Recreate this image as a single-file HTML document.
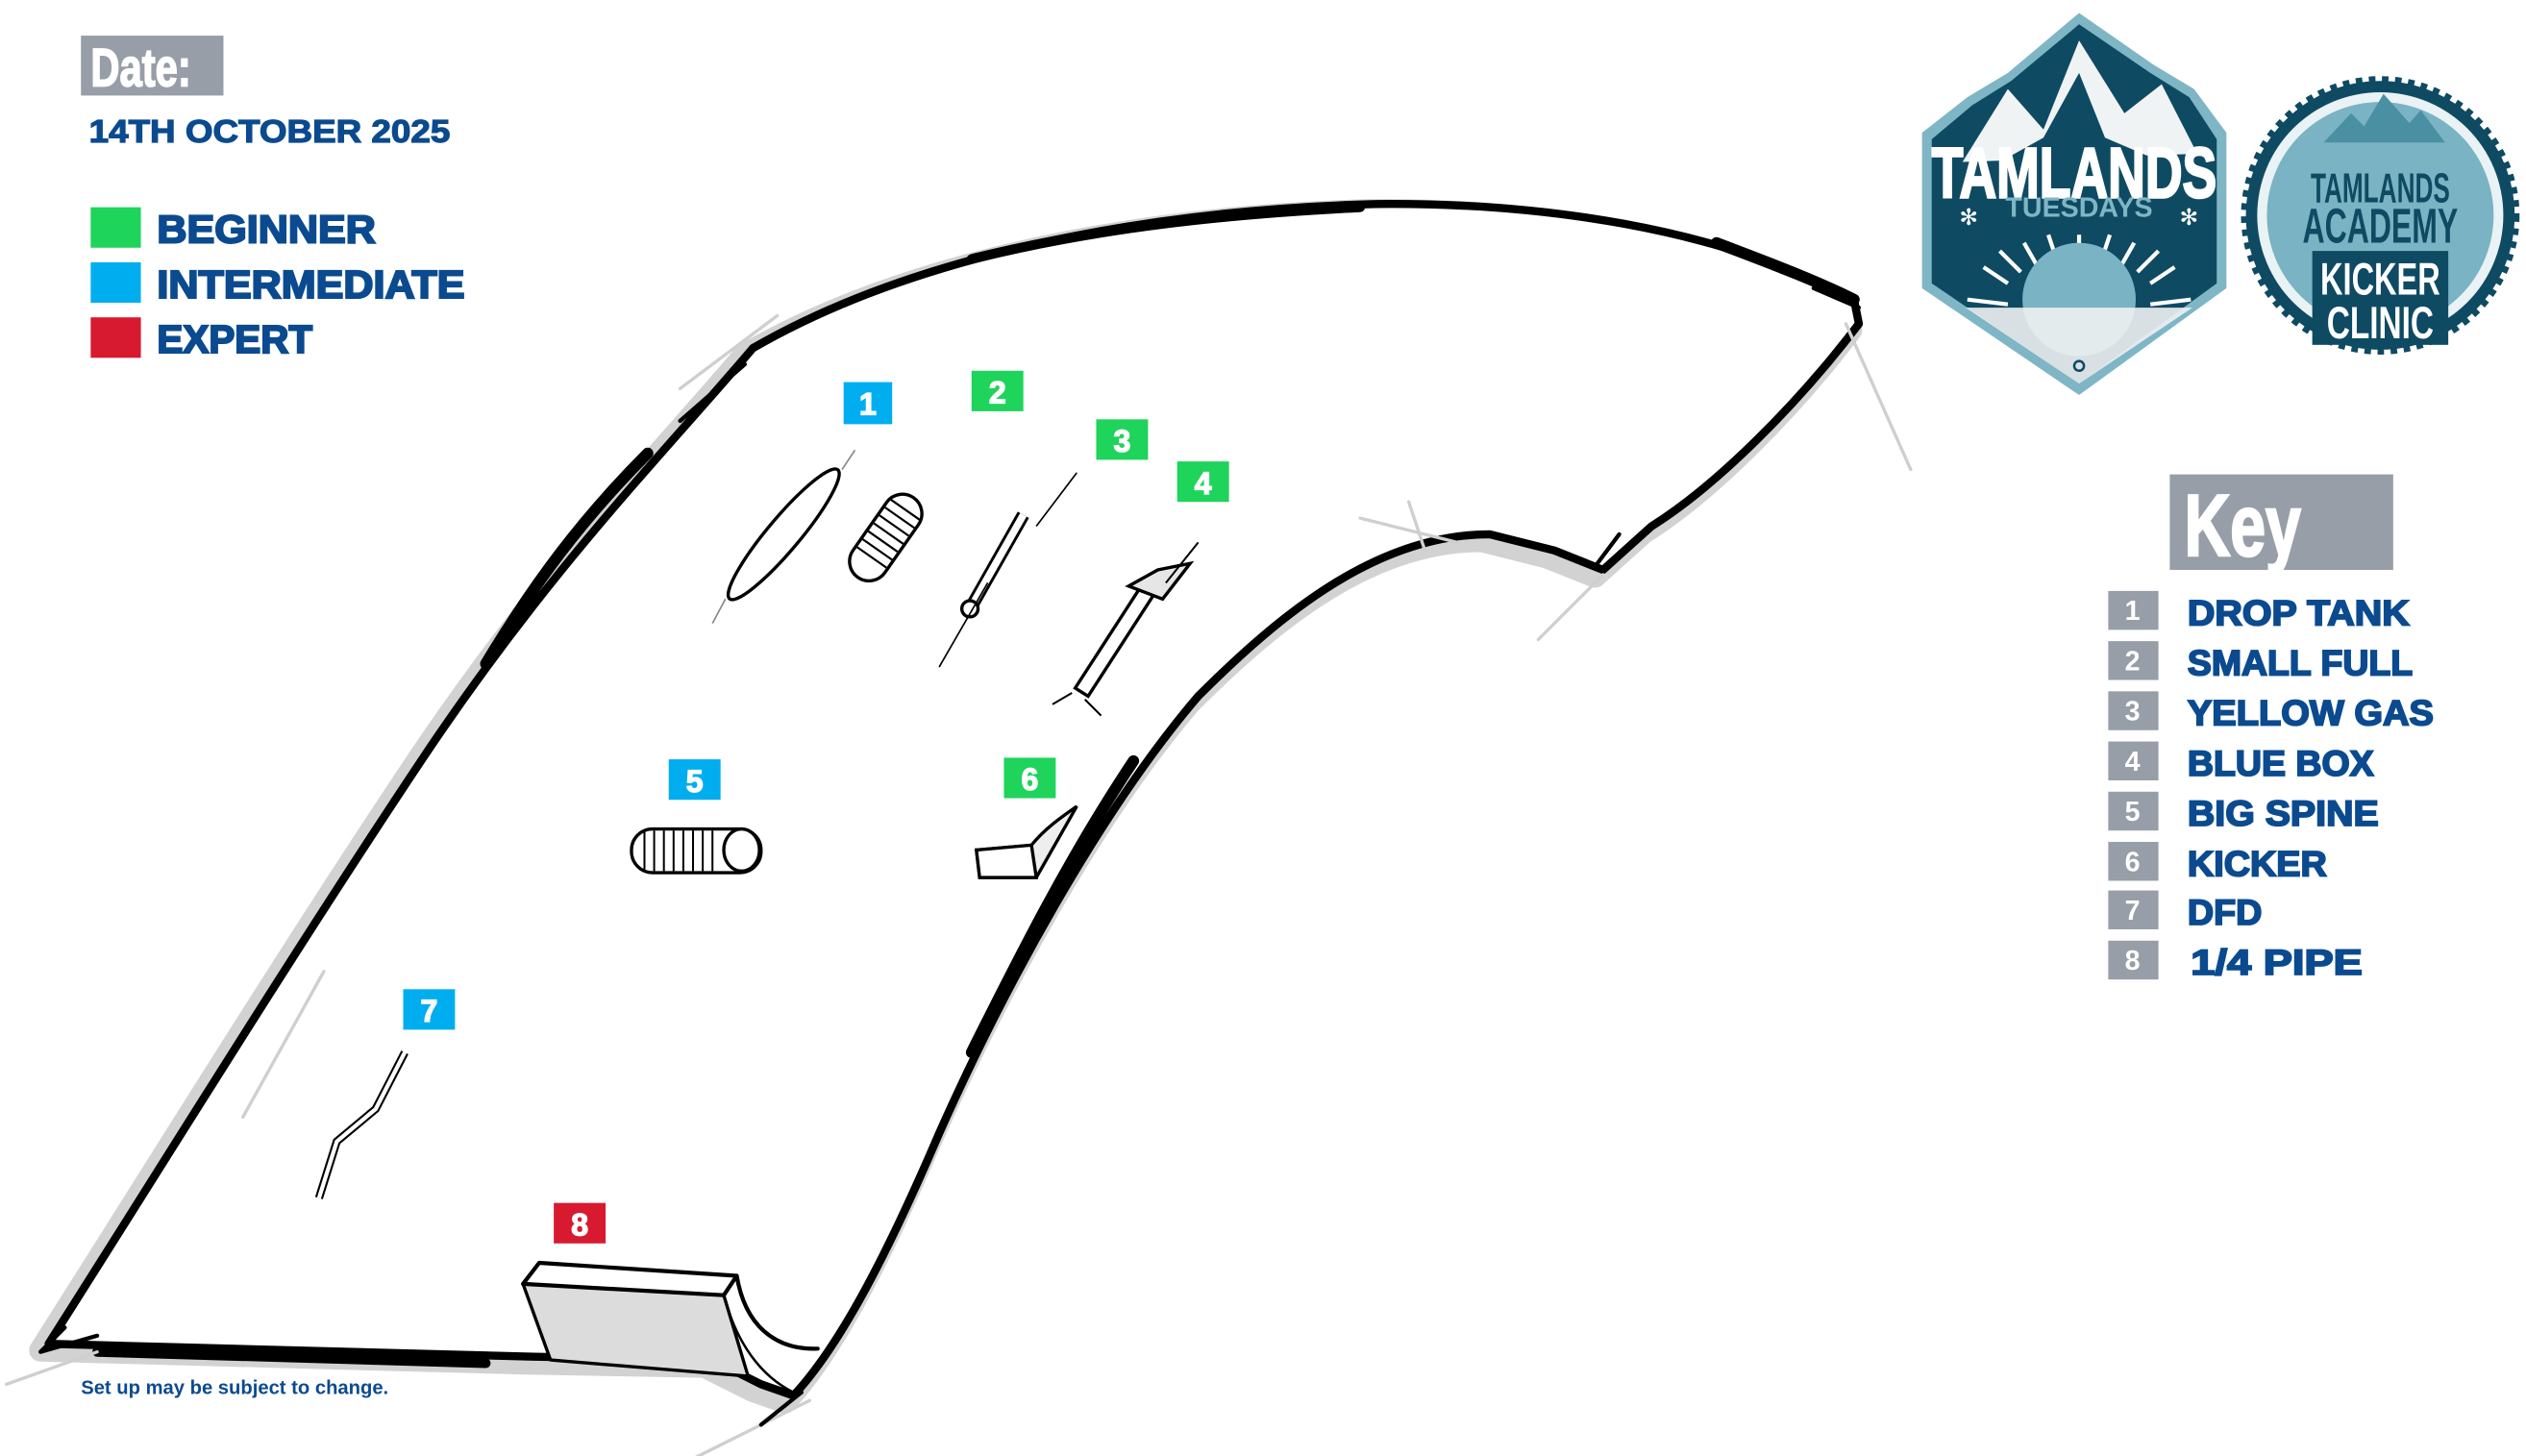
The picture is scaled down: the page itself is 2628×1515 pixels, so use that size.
<!DOCTYPE html>
<html><head><meta charset="utf-8"><style>
html,body{margin:0;padding:0;background:#fff;}
svg{display:block;}
text{font-family:"Liberation Sans",sans-serif;}
</style></head><body>
<svg width="2628" height="1515" viewBox="0 0 1560 899.3" xmlns="http://www.w3.org/2000/svg">
<!-- header -->
<rect x="50" y="22" width="88" height="37" fill="#979ea7"/>
<text x="56" y="53" font-size="33" font-weight="700" fill="#fff" stroke="#fff" stroke-width="1" textLength="62" lengthAdjust="spacingAndGlyphs">Date:</text>
<text x="55" y="88" font-size="20" font-weight="700" fill="#0b4a8f" stroke="#0b4a8f" stroke-width="0.7" textLength="223" lengthAdjust="spacingAndGlyphs">14TH OCTOBER 2025</text>
<rect x="56" y="128" width="31" height="25" fill="#1ed45a"/>
<rect x="56" y="162" width="31" height="25" fill="#00aeef"/>
<rect x="56" y="196" width="31" height="25" fill="#d71a30"/>
<g font-size="24" font-weight="700" fill="#0b4a8f" stroke="#0b4a8f" stroke-width="1.2">
<text x="97" y="150" textLength="135" lengthAdjust="spacingAndGlyphs">BEGINNER</text>
<text x="97" y="184" textLength="190" lengthAdjust="spacingAndGlyphs">INTERMEDIATE</text>
<text x="97" y="218" textLength="96" lengthAdjust="spacingAndGlyphs">EXPERT</text>
</g>

<!-- park -->
<g stroke-linejoin="round" stroke-linecap="round">
<path d="M30,830 C100,720 180,590 260,470 C340,350 410,280 465,215 C560,160 700,130 850,126 C950,125 1060,140 1145,185 L1148,200 C1110,250 1060,300 1020,325 L990,352 L960,340 L920,330 C850,330 790,380 740,430 C680,500 620,610 580,700 C550,770 520,830 490,862 L470,855 L440,840 L330,838 Z" fill="none" stroke="#d2d2d2" stroke-width="14" transform="translate(-5 4)"/>
<path d="M30,830 C100,720 180,590 260,470 C340,350 410,280 465,215 C560,160 700,130 850,126 C950,125 1060,140 1145,185 L1148,200 C1110,250 1060,300 1020,325 L990,352 L960,340 L920,330 C850,330 790,380 740,430 C680,500 620,610 580,700 C550,770 520,830 490,862 L470,855 L440,840 L330,838 Z" fill="#fff" stroke="#000" stroke-width="5"/>
<g stroke="#000" fill="none">
<path d="M300,410 C330,360 360,320 400,280" stroke-width="7"/>
<path d="M600,160 C680,140 760,132 840,128" stroke-width="6"/>
<path d="M700,470 C660,530 630,590 600,650" stroke-width="7"/>
<path d="M1060,150 C1100,165 1125,175 1145,185" stroke-width="7"/>
<path d="M60,835 L300,842" stroke-width="6"/>
</g>
<g stroke="#cfcfcf" stroke-width="2" fill="none">
<path d="M4,855 L60,835"/><path d="M840,320 L900,335"/><path d="M950,395 L990,355"/><path d="M430,900 L500,865"/><path d="M150,690 L200,600"/><path d="M420,240 L480,195"/><path d="M1180,290 L1140,200"/><path d="M870,310 L880,340"/>
</g>
<g stroke="#000" stroke-width="2.5" fill="none">
<path d="M40,820 L25,835 L60,825"/><path d="M460,225 L420,260"/><path d="M1120,178 L1148,190"/><path d="M985,350 L1000,330"/><path d="M495,860 L470,880"/>
</g>
<!-- quarter pipe -->
<polygon points="323,793 447,800 462,850 340,840" fill="#dcdcdc" stroke="#000" stroke-width="2"/>
<polygon points="323,793 333,780 455,788 447,800" fill="#fff" stroke="#000" stroke-width="2.5"/>
<path d="M455,788 C460,818 478,834 505,833" fill="none" stroke="#000" stroke-width="2.5"/>
<path d="M447,800 C455,830 470,850 490,860" fill="none" stroke="#000" stroke-width="1.5"/>
</g>

<!-- features -->
<g stroke="#000" fill="#fff" stroke-width="2">
<ellipse cx="484" cy="330" rx="52" ry="10" transform="rotate(-50 484 330)"/>
<path d="M448,370 L440,385 M520,290 L528,278" stroke="#888" stroke-width="1"/>
<g transform="rotate(-55 547 332)">
<rect x="517" y="320" width="60" height="24" rx="12"/>
<g stroke-width="1.3"><path d="M532,321v22M538,321v22M544,321v22M550,321v22M556,321v22M562,321v22M568,321v22"/></g>
</g>
<path d="M598,378 L632,318" stroke-width="8"/>
<path d="M598,378 L632,318" stroke="#fff" stroke-width="4.5"/>
<ellipse cx="599" cy="376" rx="5" ry="5"/>
<path d="M580,412 L610,360 M665,292 L640,325" stroke-width="1" fill="none"/>
<polygon points="664,425 672,430 716,362 708,357" fill="#fff"/>
<polygon points="697,362 715,352 735,348 718,370" fill="#e6e6e6"/>
<path d="M650,435 L662,428 M680,442 L670,432 M740,335 L720,360" stroke-width="1.2" fill="none"/>
<rect x="390" y="512" width="80" height="27" rx="13"/>
<ellipse cx="458" cy="525" rx="11" ry="13"/>
<g stroke-width="1.2"><path d="M398,513v25M404,513v25M410,513v25M416,513v25M422,513v25M428,513v25M434,513v25M440,513v25"/></g>
<path d="M603,525 L637,522 C645,512 655,505 665,498 L640,542 L605,542 Z" fill="#eee"/>
<path d="M603,525 L605,542 L640,542 L637,522 Z"/>
<path d="M197,740 L208,705 L232,685 L250,650" fill="none" stroke-width="5"/>
<path d="M197,740 L208,705 L232,685 L250,650" fill="none" stroke="#fff" stroke-width="2.5"/>
</g>

<!-- number labels -->
<g font-size="19" font-weight="700" fill="#fff" stroke="#fff" stroke-width="0.8" text-anchor="middle">
<rect x="521" y="236" width="30" height="26" fill="#00aeef" stroke="none"/><text x="536" y="256">1</text>
<rect x="600" y="229" width="32" height="25" fill="#1ed45a" stroke="none"/><text x="616" y="249">2</text>
<rect x="677" y="259" width="32" height="25" fill="#1ed45a" stroke="none"/><text x="693" y="279">3</text>
<rect x="727" y="285" width="32" height="25" fill="#1ed45a" stroke="none"/><text x="743" y="305">4</text>
<rect x="413" y="469" width="32" height="25" fill="#00aeef" stroke="none"/><text x="429" y="489">5</text>
<rect x="620" y="468" width="32" height="25" fill="#1ed45a" stroke="none"/><text x="636" y="488">6</text>
<rect x="249" y="611" width="32" height="25" fill="#00aeef" stroke="none"/><text x="265" y="631">7</text>
<rect x="342" y="743" width="32" height="25" fill="#d71a30" stroke="none"/><text x="358" y="763">8</text>
</g>
<text x="50" y="861" font-size="12" font-weight="700" fill="#0b4a8f">Set up may be subject to change.</text>

<!-- Key -->
<rect x="1340" y="293" width="138" height="59" fill="#979ea7"/>
<text x="1349" y="343" font-size="54" font-weight="700" fill="#fff" stroke="#fff" stroke-width="1.5" textLength="72" lengthAdjust="spacingAndGlyphs">Key</text>
<g font-size="17" font-weight="700" fill="#fff" text-anchor="middle">
<rect x="1302" y="365" width="31" height="24" fill="#979ea7"/><text x="1317" y="383">1</text>
<rect x="1302" y="396" width="31" height="24" fill="#979ea7"/><text x="1317" y="414">2</text>
<rect x="1302" y="427" width="31" height="24" fill="#979ea7"/><text x="1317" y="445">3</text>
<rect x="1302" y="458" width="31" height="24" fill="#979ea7"/><text x="1317" y="476">4</text>
<rect x="1302" y="489" width="31" height="24" fill="#979ea7"/><text x="1317" y="507">5</text>
<rect x="1302" y="520" width="31" height="24" fill="#979ea7"/><text x="1317" y="538">6</text>
<rect x="1302" y="550" width="31" height="24" fill="#979ea7"/><text x="1317" y="568">7</text>
<rect x="1302" y="581" width="31" height="24" fill="#979ea7"/><text x="1317" y="599">8</text>
</g>
<g font-size="22" font-weight="700" fill="#0b4a8f" stroke="#0b4a8f" stroke-width="1.1" lengthAdjust="spacingAndGlyphs">
<text x="1351" y="386" textLength="137" lengthAdjust="spacingAndGlyphs">DROP TANK</text>
<text x="1351" y="417" textLength="139" lengthAdjust="spacingAndGlyphs">SMALL FULL</text>
<text x="1351" y="448" textLength="152" lengthAdjust="spacingAndGlyphs">YELLOW GAS</text>
<text x="1351" y="479" textLength="115" lengthAdjust="spacingAndGlyphs">BLUE BOX</text>
<text x="1351" y="510" textLength="118" lengthAdjust="spacingAndGlyphs">BIG SPINE</text>
<text x="1351" y="541" textLength="86" lengthAdjust="spacingAndGlyphs">KICKER</text>
<text x="1351" y="571" textLength="46" lengthAdjust="spacingAndGlyphs">DFD</text>
<text x="1353" y="602" textLength="106" lengthAdjust="spacingAndGlyphs">1/4 PIPE</text>
</g>

<!-- Tamlands Tuesdays shield -->
<polygon points="1187,82 1215,60 1240,45 1284,8 1330,40 1355,55 1375,82 1375,178 1284,244 1187,178" fill="#7fb6c5"/>
<polygon points="1193,86 1218,65 1242,50 1284,15 1328,45 1352,60 1369,86 1369,175 1284,237 1193,175" fill="#0f4a63"/>
<polygon points="1212,100 1240,55 1262,80 1284,25 1312,70 1335,52 1357,95" fill="#f0f3f4"/>
<polygon points="1235,100 1262,85 1284,45 1300,85 1335,100" fill="#0f4a63"/>
<text x="1193" y="122" font-size="44" font-weight="700" fill="#fff" stroke="#fff" stroke-width="1.5" textLength="176" lengthAdjust="spacingAndGlyphs">TAMLANDS</text>
<text x="1284" y="134" font-size="17" font-family="Liberation Serif,serif" font-weight="700" fill="#7fb6c5" text-anchor="middle">TUESDAYS</text>
<text x="1210" y="139" font-size="14" fill="#fff">✻</text><text x="1346" y="139" font-size="14" fill="#fff">✻</text>
<g stroke="#fff" stroke-width="2.5">
<path d="M1284,145 L1284,160 M1250,150 L1258,164 M1318,150 L1310,164 M1225,165 L1240,175 M1343,165 L1328,175 M1215,185 L1240,188 M1353,185 L1328,188 M1265,145 L1270,160 M1303,145 L1298,160 M1235,155 L1248,168 M1333,155 L1320,168"/>
</g>
<circle cx="1284" cy="185" r="35" fill="#7ab3c3"/>
<polygon points="1214,190 1354,190 1284,237" fill="#eef1f2" opacity="0.9"/>
<circle cx="1284" cy="226" r="3" fill="none" stroke="#0f4a63" stroke-width="1.5"/>

<!-- Kicker clinic badge -->
<circle cx="1470" cy="133" r="83" fill="#0f4a63" stroke="#0f4a63" stroke-width="6" stroke-dasharray="4 4"/>
<circle cx="1470" cy="133" r="76" fill="#e9f2f4"/>
<circle cx="1470" cy="133" r="70" fill="#7ab3c3"/>
<polygon points="1435,88 1452,70 1460,78 1472,58 1488,76 1495,68 1510,88" fill="#4b8fa3"/>
<text x="1470" y="125" font-size="26" font-weight="700" fill="#0f4a63" text-anchor="middle" textLength="86" lengthAdjust="spacingAndGlyphs">TAMLANDS</text>
<text x="1470" y="150" font-size="30" font-weight="700" fill="#0f4a63" text-anchor="middle" textLength="96" lengthAdjust="spacingAndGlyphs">ACADEMY</text>
<rect x="1428" y="155" width="84" height="58" fill="#0f4a63"/>
<text x="1470" y="182" font-size="28" font-weight="700" fill="#fff" text-anchor="middle" textLength="74" lengthAdjust="spacingAndGlyphs">KICKER</text>
<text x="1470" y="209" font-size="28" font-weight="700" fill="#fff" text-anchor="middle" textLength="66" lengthAdjust="spacingAndGlyphs">CLINIC</text>
</svg>
</body></html>
